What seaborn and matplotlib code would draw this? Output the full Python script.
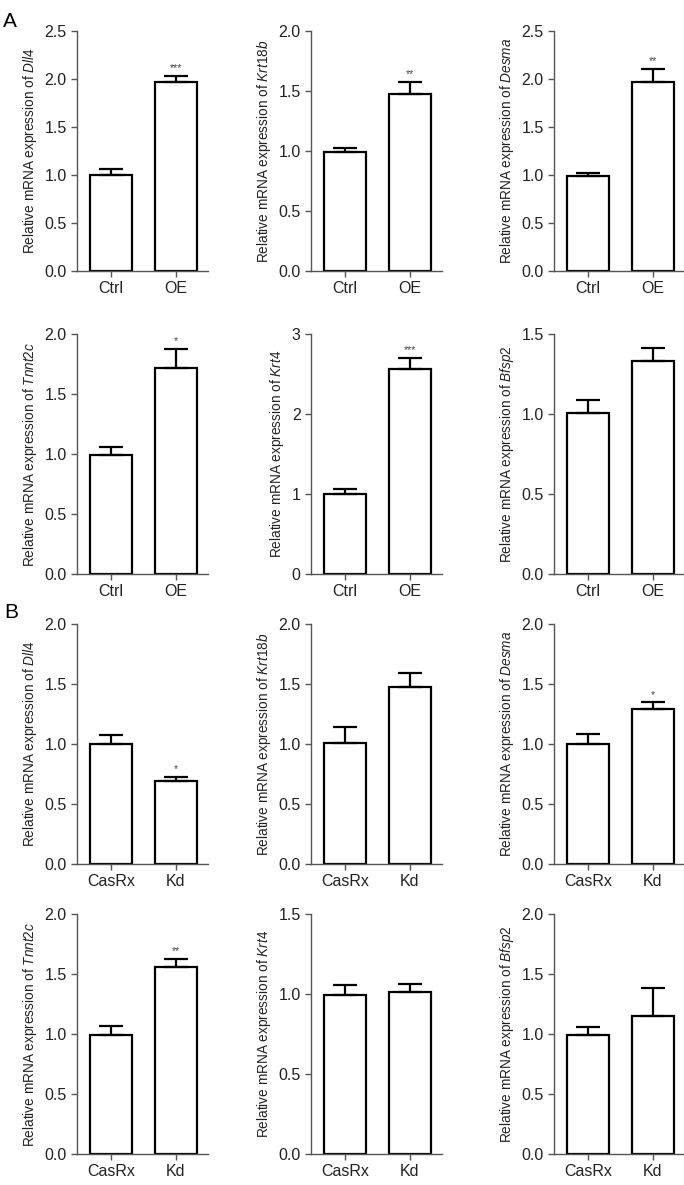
import pandas as pd
import matplotlib
matplotlib.use("Agg")
import matplotlib.pyplot as plt
import seaborn as sns

# valores (media e erro superior)
genes = ["Dll4", "Krt18b", "Desma", "Tnnt2c", "Krt4", "Bfsp2"]
groups_a = ["Ctrl", "OE"]
groups_b = ["CasRx", "Kd"]

mean_a = [[1.00, 1.97], [0.995, 1.478], [0.986, 1.972], [0.996, 1.717], [1.00, 2.563], [1.004, 1.33]]
sem_a = [[0.066, 0.065], [0.033, 0.097], [0.031, 0.128], [0.061, 0.158], [0.062, 0.137], [0.086, 0.084]]
sig_a = [["", "***"], ["", "**"], ["", "**"], ["", "*"], ["", "***"], ["", ""]]
ymax_a = [2.5, 2.0, 2.5, 2.0, 3.0, 1.5]

mean_b = [[1.00, 0.69], [1.008, 1.475], [1.00, 1.29], [0.994, 1.559], [0.996, 1.015], [0.994, 1.148]]
sem_b = [[0.078, 0.036], [0.137, 0.115], [0.081, 0.056], [0.070, 0.067], [0.058, 0.050], [0.062, 0.237]]
sig_b = [["", "*"], ["", ""], ["", "*"], ["", "**"], ["", ""], ["", ""]]
ymax_b = [2.0, 2.0, 2.0, 2.0, 1.5, 2.0]

sns.set_theme(style="ticks")
plt.rcParams['font.family'] = ['Liberation Sans', 'DejaVu Sans']
plt.rcParams['mathtext.fontset'] = 'custom'
plt.rcParams['mathtext.rm'] = 'Liberation Sans'
plt.rcParams['mathtext.it'] = 'Liberation Sans:italic'

fig = plt.figure(figsize=(6.84, 11.85), dpi=100)

col_left = [0.1126, 0.4547, 0.810]
row_bottom = [0.7713, 0.5156, 0.2709, 0.0262]
w, h = 0.1915, 0.2025
spine_col = "#555555"
text_col = "#222222"


def painel(ax, groups, means, sems, sigs, ymax, gene):
    df = pd.DataFrame({"grupo": groups, "valor": means})
    sns.barplot(data=df, x="grupo", y="valor", ax=ax, color="white",
                edgecolor="black", linewidth=1.6, width=0.65, errorbar=None,
                saturation=1)
    ax.errorbar(x=[0, 1], y=means, yerr=[[0, 0], sems], fmt="none",
                ecolor="black", elinewidth=1.6, capsize=8.5, capthick=1.6,
                zorder=1)
    for i, s in enumerate(sigs):
        if s:
            ax.text(i, means[i] + sems[i] + ymax * 0.012, s, ha="center",
                    va="bottom", fontsize=7.5, color="#444444")
    step = 1.0 if ymax >= 3 else 0.5
    ticks = [i * step for i in range(int(round(ymax / step)) + 1)]
    ax.set_yticks(ticks)
    if step == 1.0:
        ax.set_yticklabels([f"{t:.0f}" for t in ticks])
    else:
        ax.set_yticklabels([f"{t:.1f}" for t in ticks])
    ax.set_ylim(0, ymax)
    ax.set_xlim(-0.52, 1.5)
    ax.set_xlabel("")
    ax.set_ylabel(f"Relative mRNA expression of $\\it{{{gene}}}$",
                  fontsize=9.8, color=text_col, labelpad=4)
    sns.despine(ax=ax)
    for sp in ["left", "bottom"]:
        ax.spines[sp].set_color(spine_col)
        ax.spines[sp].set_linewidth(1.0)
    ax.tick_params(axis="both", colors=spine_col, labelcolor=text_col,
                   labelsize=11.5, length=4.5, width=1.0, pad=3)
    ax.spines["bottom"].set_clip_on(False)


for k, gene in enumerate(genes):
    r, c = divmod(k, 3)
    ax = fig.add_axes([col_left[c], row_bottom[r], w, h])
    painel(ax, groups_a, mean_a[k], sem_a[k], sig_a[k], ymax_a[k], gene)

for k, gene in enumerate(genes):
    r, c = divmod(k, 3)
    ax = fig.add_axes([col_left[c], row_bottom[r + 2], w, h])
    painel(ax, groups_b, mean_b[k], sem_b[k], sig_b[k], ymax_b[k], gene)

fig.text(0.004, 0.990, "A", fontsize=15, va="top", ha="left", color="black")
fig.text(0.006, 0.491, "B", fontsize=15, va="top", ha="left", color="black")

fig.savefig("out.png", dpi=100)
